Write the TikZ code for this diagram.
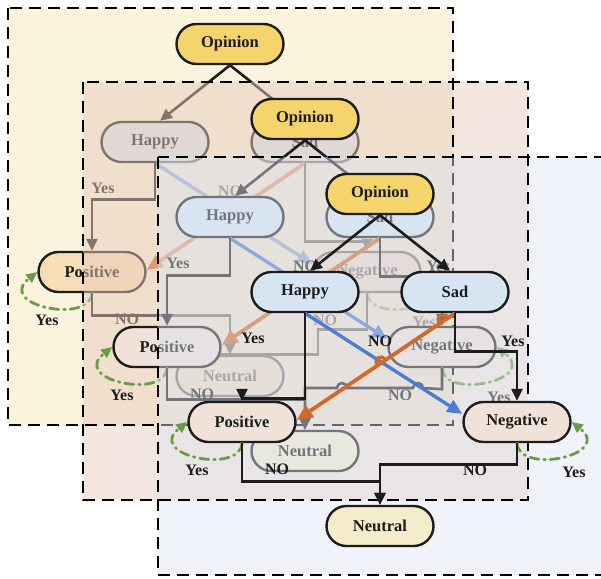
\documentclass[tikz,border=0pt]{standalone}
\usepackage{fontspec}
\setmainfont{Liberation Serif}
\usetikzlibrary{arrows.meta}

\definecolor{ink}{HTML}{1C1C1C}
\definecolor{opfill}{HTML}{F6D46C}
\definecolor{emofill}{HTML}{D7E5F3}
\definecolor{posone}{HTML}{F7DDB8}
\definecolor{posfill}{HTML}{F0E1D9}
\definecolor{negfill}{HTML}{F0E1D9}
\definecolor{neufill}{HTML}{F4ECCB}
\definecolor{bgone}{HTML}{FAF3DE}
\definecolor{veiltwo}{HTML}{E8CDBD}
\definecolor{veilthree}{HTML}{DCE4F1}
\definecolor{bluel}{HTML}{4A7DD3}
\definecolor{orangel}{HTML}{D1692B}
\definecolor{greenl}{HTML}{6A9B47}

\tikzset{
  box/.style={rectangle, rounded corners=20pt, minimum width=107pt, minimum height=40pt,
    draw=ink, line width=2.4pt, inner sep=0pt, text=ink,
    font=\fontsize{16.5}{20}\selectfont\bfseries},
  lbl/.style={inner sep=0pt, text=ink, font=\fontsize{16}{19}\selectfont\bfseries},
  tree/.style={draw=ink, line width=2.6pt, -{Triangle[length=12pt,width=11pt]}},
  plainline/.style={draw=ink, line width=2.6pt},
  blueline/.style={draw=bluel, line width=3.4pt, -{Triangle[length=15pt,width=13pt]}},
  orangeline/.style={draw=orangel, line width=3.8pt, -{Triangle[length=16pt,width=14pt]}},
  orangebump/.style={draw=orangel, line width=3.4pt},
  loopline/.style={draw=greenl, line width=2.8pt, dash pattern=on 9pt off 5pt on 1.5pt off 5pt,
    line cap=round, -{Triangle[length=11pt,width=10pt]}},
  frame/.style={draw=black, line width=2pt, dash pattern=on 12pt off 7pt},
}

% the six decision nodes of one tree; #1 = name suffix, #2 = fill of "Positive"
\newcommand\treenodes[2]{%
  \node[box, fill=opfill]  (op#1) at (380,194) {Opinion};
  \node[box, fill=emofill] (ha#1) at (305,292) {Happy};
  \node[box, fill=emofill] (sa#1) at (455,292) {Sad};
  \node[box, fill=#2]      (po#1) at (242,422) {Positive};
  \node[box, fill=negfill] (ne#1) at (517,422) {Negative};
  \node[box, fill=neufill] (nu#1) at (380,526) {Neutral};
}

% connectors and labels shared by every tree
\newcommand\treeedges[1]{%
  \draw[tree] (op#1.south) -- ([xshift=5pt]ha#1.north);
  \draw[tree] (op#1.south) -- ([xshift=-5pt]sa#1.north);
  \draw[blueline] (ha#1.south) -- ([yshift=8pt]ne#1.west);
  \draw[orangeline] (sa#1.south) -- ([yshift=2pt]po#1.east);
  \draw[loopline] (po#1.south) .. controls (240,475) and (145,455) .. (po#1.west);
  \draw[loopline] (ne#1.south) .. controls (519,475) and (614,455) .. (ne#1.east);
  \node[lbl] (yhp#1) at (253,338) {Yes};
  \node[lbl] (nhn#1) at (380,341) {NO};
  \node[lbl] (ysn#1) at (513,341) {Yes};
  \node[lbl] (npu#1) at (277,469) {NO};
  \node[lbl] (nnu#1) at (475,470) {NO};
  \node[lbl] (ypl#1) at (197,470) {Yes};
  \node[lbl] (ynl#1) at (574,472) {Yes};
}

\begin{document}
\begin{tikzpicture}[x=1pt,y=-1pt]
\useasboundingbox (0,0) rectangle (601,578);
\clip (0,0) rectangle (601,578);

% ---------- first tree ----------
\fill[bgone] (8,8) rectangle (453,425);
\begin{scope}[shift={(-150,-150)}]
  \treenodes{1}{posone}
  \treeedges{1}
  \draw[tree] (ha1.south) -- ++(0,36) -| (po1.north);
  \draw[tree] (sa1.south) -- ++(0,78) -| (ne1.north);
  \draw[tree] (po1.south) -- ++(0,22) -| (nu1.north);
  \draw[plainline] (ne1.south) -- ++(0,36) -- ++(-49,0) -- ++(0,25) -- ++(-101,0);
\end{scope}

% ---------- second tree ----------
\fill[veiltwo, opacity=0.5] (83,82) rectangle (528,500);
\draw[frame] (8,8) rectangle (453,425);
\begin{scope}[shift={(-75,-75)}]
  \treenodes{2}{posfill}
  \treeedges{2}
  \draw[tree] (ha2.south) -- ++(0,37) -| (po2.north);
  \draw[tree] (sa2.south) -- ++(0,38) -| (ne2.north);
  \draw[tree] (po2.south) -- ++(0,31) -| (nu2.north);
  \draw[tree] (ne2.south) -- ++(0,21) -- (498,463)
    arc[start angle=0, end angle=-180, radius=5] -- (422,463)
    arc[start angle=0, end angle=-180, radius=5] -- (380,463) -- (nu2.north);
\end{scope}

% ---------- third tree ----------
\fill[veilthree, opacity=0.45] (158,157) rectangle (610,575);
\draw[frame] (83,82) rectangle (528,500);
\begin{scope}
  \treenodes{3}{posfill}
  \treeedges{3}
  \draw[tree] (ha3.south) -- ++(0,85) -| (po3.north);
  \draw[tree] (sa3.south) -- ++(0,38) -| (ne3.north);
  \draw[tree] (po3.south) -- ++(0,38) -| (nu3.north);
  \draw[tree] (ne3.south) -- ++(0,21) -| (nu3.north);
  % line jumps on the orange connector
  \draw[orangebump] (443,320) ++(-4.13,2.82) arc[start angle=145.8, end angle=325.8, radius=5];
  \draw[orangebump] (381,362) ++(-4.13,2.82) arc[start angle=145.8, end angle=325.8, radius=5];
\end{scope}
\draw[frame] (158,157) rectangle (610,575);
\end{tikzpicture}
\end{document}
